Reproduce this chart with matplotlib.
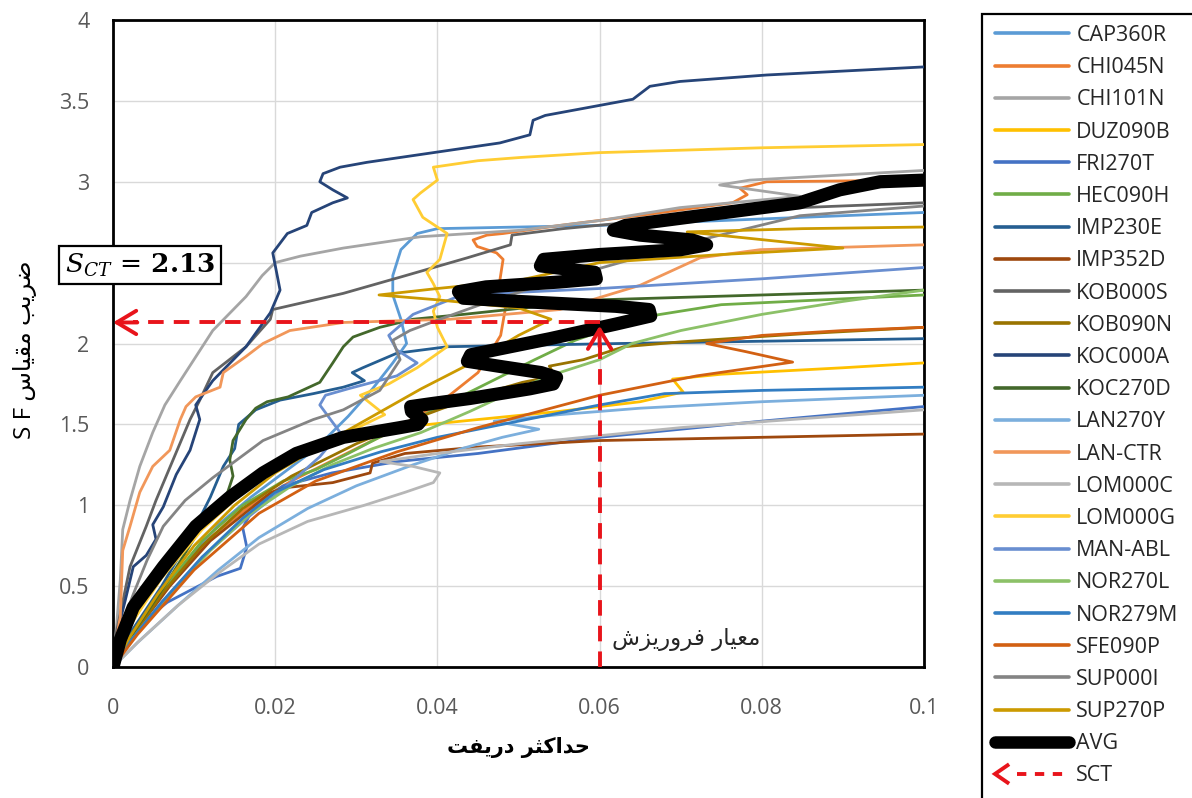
import matplotlib
matplotlib.use("Agg")
import matplotlib.pyplot as plt
from matplotlib.lines import Line2D
from matplotlib.legend_handler import HandlerBase
from matplotlib.patches import Rectangle

plt.rcParams["font.family"] = ["Open Sans", "DejaVu Sans"]

# ---------------------------------------------------------------------------
# IDA curves: (max drift, scale factor) pairs for each ground-motion record
# ---------------------------------------------------------------------------
CAP360R = [(0, 0), (0.0015, 0.15), (0.005, 0.4), (0.009, 0.65), (0.013, 0.88), (0.017, 1.05),
           (0.021, 1.2), (0.025, 1.35), (0.029, 1.55), (0.032, 1.72), (0.0345, 1.88), (0.0362, 2.0),
           (0.0355, 2.15), (0.0345, 2.3), (0.0345, 2.42), (0.0355, 2.58), (0.0375, 2.68), (0.040, 2.71),
           (0.05, 2.72), (0.06, 2.73), (0.08, 2.77), (0.1, 2.81)]
CHI045N = [(0, 0), (0.0025, 0.22), (0.007, 0.52), (0.012, 0.8), (0.017, 1.0), (0.022, 1.15),
           (0.028, 1.3), (0.034, 1.45), (0.04, 1.62), (0.045, 1.82), (0.0478, 2.05), (0.0485, 2.25),
           (0.0477, 2.39), (0.0481, 2.52), (0.0473, 2.56), (0.0449, 2.60), (0.0444, 2.64), (0.0461, 2.67),
           (0.0481, 2.68), (0.0551, 2.73), (0.0662, 2.80), (0.0764, 2.87), (0.0782, 2.92), (0.0773, 2.96),
           (0.0806, 3.0), (0.1, 3.01)]
CHI101N = [(0, 0), (0.0004, 0.23), (0.0009, 0.54), (0.0012, 0.85), (0.0021, 1.03), (0.0033, 1.24),
           (0.0049, 1.45), (0.0064, 1.62), (0.0083, 1.77), (0.0123, 2.08), (0.0164, 2.29), (0.0184, 2.42),
           (0.020, 2.50), (0.0231, 2.54), (0.0284, 2.59), (0.0379, 2.66), (0.0502, 2.70), (0.060, 2.76),
           (0.0699, 2.84), (0.0847, 2.91), (0.0748, 2.98), (0.0785, 3.01), (0.1, 3.07)]
DUZ090B = [(0, 0), (0.0015, 0.2), (0.005, 0.5), (0.009, 0.78), (0.014, 1.02), (0.02, 1.25),
           (0.026, 1.40), (0.035, 1.48), (0.045, 1.53), (0.055, 1.58), (0.065, 1.64), (0.0703, 1.70),
           (0.069, 1.78), (0.075, 1.81), (0.09, 1.85), (0.1, 1.88)]
FRI270T = [(0, 0), (0.0017, 0.2), (0.0067, 0.40), (0.0128, 0.56), (0.0157, 0.61), (0.0165, 0.74),
           (0.016, 0.86), (0.0175, 1.0), (0.021, 1.12), (0.027, 1.2), (0.035, 1.27), (0.045, 1.32),
           (0.06, 1.42), (0.08, 1.52), (0.1, 1.61)]
HEC090H = [(0, 0), (0.002, 0.2), (0.0065, 0.5), (0.011, 0.78), (0.016, 1.0), (0.021, 1.15),
           (0.025, 1.22), (0.029, 1.32), (0.034, 1.45), (0.04, 1.6), (0.046, 1.75), (0.052, 1.9),
           (0.057, 2.02), (0.065, 2.16), (0.075, 2.24), (0.1, 2.30)]
IMP230E = [(0, 0), (0.002, 0.2), (0.006, 0.5), (0.0095, 0.8), (0.012, 1.05), (0.0136, 1.24),
           (0.015, 1.35), (0.0155, 1.5), (0.0176, 1.59), (0.0206, 1.65), (0.0247, 1.69), (0.0284, 1.73),
           (0.031, 1.77), (0.0295, 1.82), (0.0308, 1.85), (0.035, 1.94), (0.0412, 1.98), (0.0625, 2.0),
           (0.1, 2.03)]
IMP352D = [(0, 0), (0.0025, 0.2), (0.007, 0.5), (0.012, 0.78), (0.017, 0.98), (0.0195, 1.08),
           (0.0215, 1.11), (0.0271, 1.14), (0.0317, 1.20), (0.032, 1.26), (0.036, 1.32), (0.045, 1.36),
           (0.06, 1.40), (0.08, 1.42), (0.1, 1.44)]
KOB000S = [(0, 0), (0.0004, 0.21), (0.0021, 0.62), (0.0041, 0.87), (0.0053, 1.03), (0.0074, 1.28),
           (0.0095, 1.53), (0.0107, 1.65), (0.0123, 1.82), (0.0164, 1.98), (0.0194, 2.15), (0.0197, 2.21),
           (0.0284, 2.31), (0.0354, 2.41), (0.0437, 2.53), (0.049, 2.61), (0.0492, 2.67), (0.0555, 2.71),
           (0.0724, 2.79), (0.0847, 2.84), (0.1, 2.87)]
KOB090N = [(0, 0), (0.002, 0.15), (0.006, 0.45), (0.011, 0.75), (0.016, 0.98), (0.022, 1.18),
           (0.03, 1.38), (0.038, 1.55), (0.045, 1.68), (0.0505, 1.76), (0.0545, 1.80), (0.0538, 1.86),
           (0.058, 1.90), (0.063, 1.98), (0.07, 2.01), (0.085, 2.06), (0.1, 2.10)]
KOC000A = [(0, 0), (0.0006, 0.23), (0.0015, 0.41), (0.0025, 0.62), (0.0041, 0.69), (0.0053, 0.79),
           (0.0049, 0.88), (0.0062, 0.99), (0.0078, 1.19), (0.0095, 1.34), (0.0107, 1.53), (0.0102, 1.62),
           (0.0123, 1.77), (0.0164, 1.98), (0.0194, 2.19), (0.0206, 2.33), (0.0197, 2.56), (0.0215, 2.68),
           (0.0239, 2.73), (0.0245, 2.81), (0.0271, 2.87), (0.0289, 2.90), (0.0271, 2.95), (0.0255, 3.00),
           (0.0259, 3.05), (0.028, 3.09), (0.0313, 3.12), (0.0395, 3.18), (0.0477, 3.24), (0.0514, 3.29),
           (0.0518, 3.38), (0.0533, 3.41), (0.0641, 3.51), (0.0662, 3.59), (0.0699, 3.62), (0.0806, 3.66),
           (0.1, 3.71)]
KOC270D = [(0, 0), (0.003, 0.25), (0.007, 0.55), (0.0107, 0.85), (0.0136, 1.0), (0.0148, 1.18),
           (0.0144, 1.28), (0.0148, 1.40), (0.0164, 1.53), (0.0176, 1.60), (0.019, 1.64), (0.0216, 1.67),
           (0.0255, 1.76), (0.0271, 1.88), (0.0284, 1.98), (0.0296, 2.04), (0.0329, 2.10), (0.037, 2.15),
           (0.0432, 2.18), (0.060, 2.27), (0.1, 2.33)]
LAN270Y = [(0, 0), (0.003, 0.15), (0.008, 0.38), (0.013, 0.6), (0.018, 0.8), (0.024, 0.98),
           (0.03, 1.12), (0.037, 1.25), (0.043, 1.35), (0.048, 1.42), (0.0525, 1.47), (0.047, 1.52),
           (0.055, 1.56), (0.065, 1.6), (0.08, 1.64), (0.1, 1.68)]
LAN_CTR = [(0, 0), (0.0004, 0.17), (0.0009, 0.31), (0.0012, 0.72), (0.0021, 0.87), (0.0033, 1.08),
           (0.0049, 1.24), (0.007, 1.34), (0.0083, 1.53), (0.009, 1.61), (0.0102, 1.67), (0.0132, 1.73),
           (0.0136, 1.82), (0.0164, 1.92), (0.0185, 2.00), (0.0218, 2.08), (0.0284, 2.13), (0.0416, 2.15),
           (0.0551, 2.21), (0.065, 2.36), (0.0724, 2.53), (0.0798, 2.58), (0.1, 2.61)]
LOM000C = [(0, 0), (0.003, 0.15), (0.008, 0.38), (0.013, 0.58), (0.018, 0.76), (0.024, 0.9),
           (0.031, 1.0), (0.036, 1.08), (0.0395, 1.14), (0.0403, 1.20), (0.037, 1.24), (0.033, 1.27),
           (0.04, 1.32), (0.05, 1.38), (0.07, 1.48), (0.1, 1.59)]
LOM000G = [(0, 0), (0.002, 0.25), (0.006, 0.55), (0.011, 0.85), (0.016, 1.08), (0.021, 1.25),
           (0.026, 1.38), (0.031, 1.5), (0.0335, 1.56), (0.032, 1.62), (0.0305, 1.68), (0.034, 1.75),
           (0.0375, 1.85), (0.0395, 1.92), (0.0412, 1.98), (0.040, 2.1), (0.0395, 2.2), (0.0403, 2.29),
           (0.0395, 2.37), (0.0387, 2.44), (0.0403, 2.52), (0.0412, 2.68), (0.0382, 2.78), (0.037, 2.89),
           (0.0379, 2.93), (0.040, 3.01), (0.0395, 3.09), (0.045, 3.13), (0.0502, 3.15), (0.06, 3.18),
           (0.08, 3.21), (0.1, 3.23)]
MAN_ABL = [(0, 0), (0.002, 0.15), (0.006, 0.4), (0.011, 0.68), (0.016, 0.9), (0.021, 1.1),
           (0.0255, 1.3), (0.028, 1.45), (0.0255, 1.62), (0.0262, 1.68), (0.029, 1.72), (0.035, 1.80),
           (0.0375, 1.88), (0.035, 1.96), (0.034, 2.05), (0.037, 2.18), (0.043, 2.30), (0.06, 2.34),
           (0.08, 2.40), (0.1, 2.47)]
NOR270L = [(0, 0), (0.0025, 0.18), (0.007, 0.45), (0.012, 0.72), (0.017, 0.95), (0.022, 1.12),
           (0.027, 1.25), (0.032, 1.35), (0.038, 1.45), (0.044, 1.58), (0.05, 1.72), (0.0538, 1.80),
           (0.06, 1.90), (0.064, 2.0), (0.07, 2.08), (0.08, 2.18), (0.09, 2.26), (0.1, 2.33)]
NOR279M = [(0, 0), (0.002, 0.15), (0.006, 0.4), (0.011, 0.68), (0.016, 0.92), (0.02, 1.08),
           (0.026, 1.22), (0.033, 1.33), (0.04, 1.42), (0.05, 1.52), (0.06, 1.62), (0.068, 1.69),
           (0.08, 1.71), (0.1, 1.73)]
SFE090P = [(0, 0), (0.003, 0.2), (0.01, 0.6), (0.018, 0.95), (0.025, 1.15), (0.035, 1.33),
           (0.045, 1.48), (0.06, 1.68), (0.072, 1.8), (0.0838, 1.885), (0.078, 1.95), (0.0732, 2.0),
           (0.08, 2.05), (0.09, 2.08), (0.1, 2.10)]
SUP000I = [(0, 0), (0.0009, 0.23), (0.0025, 0.45), (0.0042, 0.66), (0.0062, 0.87), (0.0089, 1.03),
           (0.0123, 1.17), (0.0185, 1.40), (0.0247, 1.53), (0.0284, 1.59), (0.0329, 1.71), (0.0354, 1.90),
           (0.0345, 2.02), (0.0366, 2.08), (0.0403, 2.15), (0.0453, 2.24), (0.0527, 2.36), (0.0625, 2.50),
           (0.0724, 2.64), (0.0847, 2.79), (0.1, 2.85)]
SUP270P = [(0, 0), (0.002, 0.18), (0.0055, 0.45), (0.01, 0.75), (0.015, 1.0), (0.02, 1.2),
           (0.026, 1.38), (0.032, 1.55), (0.038, 1.72), (0.045, 1.90), (0.05, 2.05), (0.054, 2.15),
           (0.05, 2.22), (0.04, 2.27), (0.0328, 2.30), (0.04, 2.34), (0.05, 2.39), (0.06, 2.50),
           (0.075, 2.55), (0.09, 2.59), (0.0708, 2.69), (0.085, 2.71), (0.1, 2.72)]

# mean IDA curve
AVG = [(0, 0), (0.0009, 0.17), (0.0025, 0.37), (0.0062, 0.62), (0.0102, 0.87), (0.0144, 1.05),
       (0.0185, 1.20), (0.0226, 1.32), (0.0284, 1.42), (0.0354, 1.48), (0.0376, 1.50), (0.0381, 1.53),
       (0.0368, 1.58), (0.0367, 1.61), (0.0395, 1.63), (0.044, 1.66), (0.0514, 1.72), (0.0543, 1.75),
       (0.0547, 1.79), (0.0528, 1.82), (0.0475, 1.86), (0.0437, 1.89), (0.0441, 1.93), (0.048, 1.97),
       (0.0539, 2.03), (0.062, 2.12), (0.0663, 2.17), (0.0661, 2.21), (0.062, 2.23), (0.050, 2.26),
       (0.0432, 2.28), (0.0426, 2.32), (0.046, 2.35), (0.055, 2.38), (0.0596, 2.40), (0.0594, 2.44),
       (0.056, 2.46), (0.0527, 2.48), (0.0531, 2.52), (0.060, 2.55), (0.070, 2.58), (0.0732, 2.61),
       (0.0714, 2.64), (0.065, 2.67), (0.0617, 2.70), (0.0632, 2.73), (0.0724, 2.79), (0.0847, 2.87),
       (0.0896, 2.95), (0.0946, 3.00), (0.1, 3.01)]

record_names = ["CAP360R", "CHI045N", "CHI101N", "DUZ090B", "FRI270T", "HEC090H", "IMP230E",
                "IMP352D", "KOB000S", "KOB090N", "KOC000A", "KOC270D", "LAN270Y", "LAN-CTR",
                "LOM000C", "LOM000G", "MAN-ABL", "NOR270L", "NOR279M", "SFE090P", "SUP000I", "SUP270P"]
record_curves = [CAP360R, CHI045N, CHI101N, DUZ090B, FRI270T, HEC090H, IMP230E, IMP352D, KOB000S,
                 KOB090N, KOC000A, KOC270D, LAN270Y, LAN_CTR, LOM000C, LOM000G, MAN_ABL, NOR270L,
                 NOR279M, SFE090P, SUP000I, SUP270P]
record_colors = ["#5B9BD5", "#ED7D31", "#A5A5A5", "#FFC000", "#4472C4", "#70AD47", "#255E91",
                 "#9E480E", "#636363", "#997300", "#264478", "#43682B", "#7CAFDD", "#F1975A",
                 "#B7B7B7", "#FFCD33", "#698ED0", "#8CC168", "#327DC2", "#D26012", "#848484", "#CC9A00"]

# collapse capacity and collapse drift criterion
SCT = 2.13
COLLAPSE_DRIFT = 0.06

x_ticks = [0, 0.02, 0.04, 0.06, 0.08, 0.1]
x_tick_labels = ["0", "0.02", "0.04", "0.06", "0.08", "0.1"]
y_ticks = [0, 0.5, 1, 1.5, 2, 2.5, 3, 3.5, 4]
y_tick_labels = ["0", "0.5", "1", "1.5", "2", "2.5", "3", "3.5", "4"]

# ---------------------------------------------------------------------------
# Minimal Persian shaping (presentation forms + visual order) for labels
# ---------------------------------------------------------------------------
_FORMS = {
    "\u0627": ("\uFE8D", "\uFE8E", None, None),
    "\u0628": ("\uFE8F", "\uFE90", "\uFE91", "\uFE92"),
    "\u062A": ("\uFE95", "\uFE96", "\uFE97", "\uFE98"),
    "\u062B": ("\uFE99", "\uFE9A", "\uFE9B", "\uFE9C"),
    "\u062D": ("\uFEA1", "\uFEA2", "\uFEA3", "\uFEA4"),
    "\u062F": ("\uFEA9", "\uFEAA", None, None),
    "\u0631": ("\uFEAD", "\uFEAE", None, None),
    "\u0632": ("\uFEAF", "\uFEB0", None, None),
    "\u0633": ("\uFEB1", "\uFEB2", "\uFEB3", "\uFEB4"),
    "\u0634": ("\uFEB5", "\uFEB6", "\uFEB7", "\uFEB8"),
    "\u0636": ("\uFEBD", "\uFEBE", "\uFEBF", "\uFEC0"),
    "\u0639": ("\uFEC9", "\uFECA", "\uFECB", "\uFECC"),
    "\u0641": ("\uFED1", "\uFED2", "\uFED3", "\uFED4"),
    "\u0642": ("\uFED5", "\uFED6", "\uFED7", "\uFED8"),
    "\u0645": ("\uFEE1", "\uFEE2", "\uFEE3", "\uFEE4"),
    "\u0648": ("\uFEED", "\uFEEE", None, None),
    "\u06A9": ("\uFB8E", "\uFB8F", "\uFB90", "\uFB91"),
    "\u0643": ("\uFB8E", "\uFB8F", "\uFB90", "\uFB91"),
    "\u06CC": ("\uFBFC", "\uFBFD", "\uFBFE", "\uFBFF"),
    "\u064A": ("\uFBFC", "\uFBFD", "\uFBFE", "\uFBFF"),
}


def persian(text):
    out = []
    for i, ch in enumerate(text):
        if ch not in _FORMS:
            out.append(ch)
            continue
        iso, fin, ini, med = _FORMS[ch]
        prev = text[i - 1] if i > 0 else ""
        nxt = text[i + 1] if i + 1 < len(text) else ""
        join_prev = prev in _FORMS and _FORMS[prev][2] is not None
        join_next = nxt in _FORMS and ini is not None
        if join_prev and join_next:
            out.append(med)
        elif join_prev:
            out.append(fin)
        elif join_next:
            out.append(ini)
        else:
            out.append(iso)
    return "".join(reversed(out))


class ArrowLineHandler(HandlerBase):
    """Legend key: dashed line with an open arrowhead at its left end."""

    def create_artists(self, legend, orig_handle, xdescent, ydescent, width, height,
                       fontsize, trans):
        yc = height / 2 - ydescent
        x0 = -xdescent
        dash = Line2D([x0 + 0.30 * width, x0 + width], [yc, yc])
        dash.update_from(orig_handle)
        dash.set_transform(trans)
        hl, hw = 0.19 * width, 7.0
        head = Line2D([x0 + hl, x0, x0 + hl], [yc + hw, yc, yc - hw],
                      color=orig_handle.get_color(), lw=orig_handle.get_linewidth(),
                      solid_joinstyle="miter", solid_capstyle="butt")
        head.set_transform(trans)
        return [dash, head]


W, H = 1192, 798
fig = plt.figure(figsize=(W / 100, H / 100), dpi=100)
ax = fig.add_axes([113 / W, 1 - 667 / H, (924 - 113) / W, (667 - 20) / H])

for name, pts, col in zip(record_names, record_curves, record_colors):
    xs, ys = zip(*pts)
    ax.plot(xs, ys, color=col, lw=2.0, label=name, solid_joinstyle="round",
            solid_capstyle="round", zorder=3)

avg_x, avg_y = zip(*AVG)
ax.plot(avg_x, avg_y, color="black", lw=9.5, label="AVG", solid_joinstyle="round",
        solid_capstyle="round", zorder=5)

# collapse markers
red = "#E8141B"
dash_style = (0, (4, 2.6))
ax.plot([COLLAPSE_DRIFT, 0.0025], [SCT, SCT], color=red, lw=2.8, linestyle=dash_style, zorder=6)
ax.plot([COLLAPSE_DRIFT, COLLAPSE_DRIFT], [0, SCT - 0.05], color=red, lw=2.8, linestyle=dash_style,
        zorder=6)
head = dict(arrowstyle="->,head_length=0.7,head_width=0.42", color=red, lw=2.8,
            shrinkA=0, shrinkB=0, mutation_scale=20)
ax.annotate("", xy=(0, SCT), xytext=(0.003, SCT), arrowprops=head, zorder=7)
ax.annotate("", xy=(COLLAPSE_DRIFT, SCT - 0.02), xytext=(COLLAPSE_DRIFT, SCT - 0.15),
            arrowprops=head, zorder=7)

ax.text(0.0033, 2.485, r"$\boldsymbol{S_{CT}}\,=\,\mathbf{%.2f}$" % SCT, math_fontfamily="dejavuserif",
        fontsize=19, ha="center", va="center", zorder=10,
        bbox=dict(boxstyle="square,pad=0.22", fc="white", ec="black", lw=1.6))
ax.text(COLLAPSE_DRIFT + 0.0015, 0.17, persian("معیار فروریزش"), fontsize=16.5,
        family=["DejaVu Sans"], color="#262626", ha="left", va="center", zorder=8)

ax.set_xlim(0, 0.1)
ax.set_ylim(0, 4)
ax.set_xticks(x_ticks)
ax.set_xticklabels(x_tick_labels)
ax.set_yticks(y_ticks)
ax.set_yticklabels(y_tick_labels)
ax.tick_params(length=0, labelsize=15.5, labelcolor="#595959")
ax.tick_params(axis="x", pad=22)
ax.tick_params(axis="y", pad=17)
# the 2.5 label sits under the S_CT box
ax.get_yticklabels()[y_ticks.index(2.5)].set_visible(False)
ax.grid(True, color="#D9D9D9", lw=1.0, zorder=0)
ax.set_axisbelow(True)
for sp in ax.spines.values():
    sp.set_color("black")
    sp.set_linewidth(2.0)

ax.set_xlabel(persian("حداکثر دریفت"), fontsize=15, fontweight="bold",
              family=["DejaVu Sans"], va="center")
ax.xaxis.set_label_coords(0.5, -0.125)
ax.set_ylabel("S F " + persian("ضریب مقیاس"), fontsize=17.5, family=["Open Sans", "DejaVu Sans"],
              va="center")
ax.yaxis.set_label_coords(-0.108, 0.49)

# legend
handles, labels = ax.get_legend_handles_labels()
sct_handle = Line2D([], [], color=red, lw=2.8, linestyle=(0, (2.4, 2.2)))
handles.append(sct_handle)
labels.append("SCT")
leg = fig.legend(handles, labels, loc="upper left", bbox_to_anchor=(995 / W, 1 - 25 / H),
                 frameon=False, fontsize=15.5, borderpad=0, borderaxespad=0,
                 handlelength=3.45, handletextpad=0.33, labelspacing=0.52,
                 handler_map={sct_handle: ArrowLineHandler()})
for t in leg.get_texts():
    t.set_color("#262626")
for lh in leg.legend_handles[:-1]:
    lh.set_linewidth(2.6 if lh.get_color() != "black" else 9.0)
fig.add_artist(Rectangle((982 / W, -0.1), 0.5, 1.1 - 14 / H, transform=fig.transFigure,
                         fill=False, ec="black", lw=1.6, clip_on=False))

fig.savefig("out.png", dpi=100)
